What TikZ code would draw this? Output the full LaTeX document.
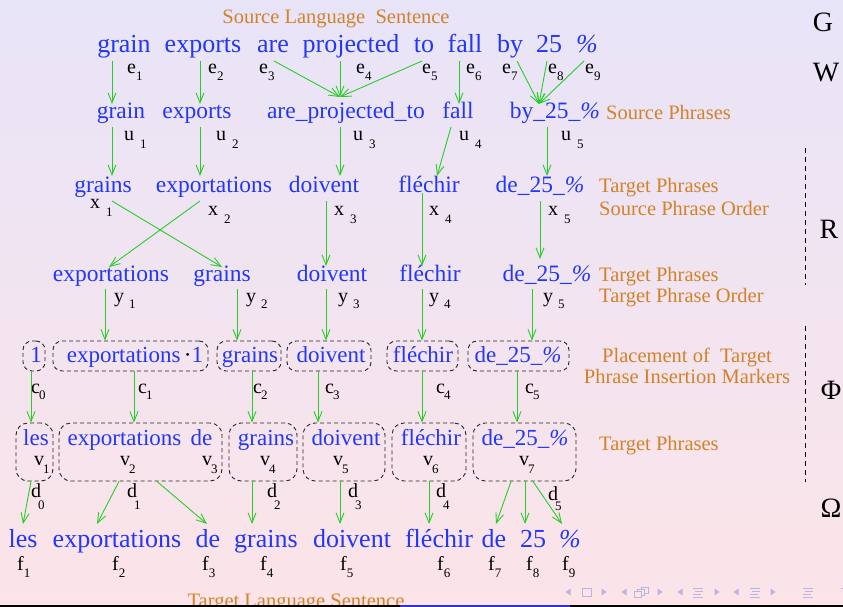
\documentclass[tikz,border=0pt]{standalone}
\usepackage{fontspec}
\setmainfont{Liberation Serif}
\usetikzlibrary{arrows.meta}
\definecolor{wblue}{RGB}{35,55,250}
\definecolor{worange}{RGB}{210,130,40}
\definecolor{wgreen}{RGB}{40,205,40}
\definecolor{navc}{RGB}{185,180,225}
\definecolor{bgtop}{RGB}{232,228,248}
\definecolor{bgbot}{RGB}{252,228,232}
\definecolor{barblue}{RGB}{50,50,200}
\newcommand\sbl[4]{#1\hspace{#3}\raisebox{-#4pt}{\fontsize{13}{13}\selectfont #2}}
\newcommand\pct{\textit{\%}}
\begin{document}
\begin{tikzpicture}[x=1pt,y=-1pt,
 big/.style={text=wblue,font=\fontsize{26}{30}\selectfont,anchor=base,inner sep=0pt},
 mid/.style={text=wblue,font=\fontsize{23.5}{28}\selectfont,anchor=base,inner sep=0pt},
 boxt/.style={text=wblue,font=\fontsize{23}{28}\selectfont,anchor=base,inner sep=0pt},
 lab/.style={font=\fontsize{20}{24}\selectfont,anchor=base west,inner sep=0pt},
 note/.style={text=worange,font=\fontsize{20.5}{24}\selectfont,inner sep=0pt},
 lvl/.style={font=\fontsize{28}{30}\selectfont,anchor=base,inner sep=0pt},
 dbox/.style={draw=black!85,dash pattern=on 4pt off 3pt,rounded corners=9pt,minimum height=30pt,inner sep=0pt,line width=0.9pt},
 tbox/.style={dbox,minimum height=58pt,rounded corners=12pt},
 arr/.style={draw=wgreen,line width=0.9pt,-{Straight Barb[length=10pt,width=8pt]}},
 lvline/.style={draw=black,line width=0.8pt,dash pattern=on 5pt off 4pt},
]
\shade[top color=bgtop,bottom color=bgbot] (0,0) rectangle (843,607);
\useasboundingbox (0,0) rectangle (843,607);

% Row 1: source sentence
\node[big] (w1) at (124,53) {grain};
\node[big] (w2) at (203,53) {exports};
\node[big] (w3) at (273,53) {are};
\node[big] (w4) at (351,53) {projected};
\node[big] (w5) at (424,53) {to};
\node[big] (w6) at (465,53) {fall};
\node[big] (w7) at (510,53) {by};
\node[big] (w8) at (549,53) {25};
\node[big] (w9) at (587,53) {\pct};

% Row 2: source phrases
\node[mid] (p1) at (121,119) {grain};
\node[mid] (p2) at (197,119) {exports};
\node[mid] (p3) at (346,119) {are\_projected\_to};
\node[mid] (p4) at (458,119) {fall};
\node[mid] (p5) at (555,119) {by\_25\_\pct};

% Row 3: target phrases, source order
\node[mid] (t1) at (103,192) {grains};
\node[mid] (t2) at (214,192) {exportations};
\node[mid] (t3) at (324,192) {doivent};
\node[mid] (t4) at (429,192) {fléchir};
\node[mid] (t5) at (540,192) {de\_25\_\pct};

% Row 4: target phrases, target order
\node[mid] (s1) at (111,281) {exportations};
\node[mid] (s2) at (222,281) {grains};
\node[mid] (s3) at (332,281) {doivent};
\node[mid] (s4) at (430,281) {fléchir};
\node[mid] (s5) at (547,281) {de\_25\_\pct};

% Row 5: boxes with insertion markers
\node[dbox,minimum width=22pt] (m0) at (34,356) {};
\node[dbox,minimum width=155pt] (m1) at (130.5,356) {};
\node[dbox,minimum width=64pt] (m2) at (249,356) {};
\node[dbox,minimum width=84pt] (m3) at (329,356) {};
\node[dbox,minimum width=71pt] (m4) at (422.5,356) {};
\node[dbox,minimum width=101pt] (m5) at (518.5,356) {};
\node[boxt] (q0) at (36,362) {1};
\node[boxt] (q1) at (135,362) {exportations\hspace{0.15em}{\color{black}·}1};
\node[boxt] (q2) at (250,362) {grains};
\node[boxt] (q3) at (331,362) {doivent};
\node[boxt] (q4) at (423,362) {fléchir};
\node[boxt] (q5) at (518,362) {de\_25\_\pct};

% Row 6: target phrase boxes
\node[tbox,minimum width=37pt] (n1) at (34.5,452) {};
\node[tbox,minimum width=163pt] (n2) at (140.5,452) {};
\node[tbox,minimum width=68pt] (n3) at (263,452) {};
\node[tbox,minimum width=82pt] (n4) at (344,452) {};
\node[tbox,minimum width=74pt] (n5) at (429,452) {};
\node[tbox,minimum width=103pt] (n6) at (524.5,452) {};
\node[boxt] (r1) at (36,445) {les};
\node[boxt] (r2) at (140,445) {exportations\hspace{0.4em}de};
\node[boxt] (r3) at (266,445) {grains};
\node[boxt] (r4) at (346,445) {doivent};
\node[boxt] (r5) at (431,445) {fléchir};
\node[boxt] (r6) at (525,445) {de\_25\_\pct};

% Row 7: target sentence
\node[big] (g1) at (23,547) {les};
\node[big] (g2) at (117,547) {exportations};
\node[big] (g3) at (208,547) {de};
\node[big] (g4) at (266,547) {grains};
\node[big] (g5) at (352,547) {doivent};
\node[big] (g6) at (439,547) {fléchir};
\node[big] (g7) at (494,547) {de};
\node[big] (g8) at (533,547) {25};
\node[big] (g9) at (570,547) {\pct};

% labels
\foreach \n/\x in {1/127,2/208,3/259,4/356,5/422,6/466,7/502,8/548,9/585}
  \node[lab] (e\n) at (\x,74) {\sbl{e}{\n}{0pt}{7}};
\foreach \n/\x in {1/124,2/216,3/353,4/459,5/561}
  \node[lab] (u\n) at (\x,140) {\sbl{u}{\n}{6pt}{8}};
\node[lab] (x1) at (90,208) {\sbl{x}{1}{6pt}{8}};
\foreach \n/\x in {2/208,3/334,4/429,5/548}
  \node[lab] (x\n) at (\x,215) {\sbl{x}{\n}{6pt}{8}};
\foreach \n/\x in {1/114,2/246,3/338,4/429,5/543}
  \node[lab] (y\n) at (\x,302) {\sbl{y}{\n}{5pt}{6}};
\foreach \n/\x in {0/31,1/138,2/253,3/325,4/436,5/525}
  \node[lab] (c\n) at (\x,393) {\sbl{c}{\n}{-1pt}{6}};
\foreach \n/\x in {1/34,2/120,3/202,4/260,5/333,6/423,7/519}
  \node[lab] (v\n) at (\x,465) {\sbl{v}{\n}{-1pt}{8}};
\foreach \n/\x in {0/31,1/127,2/267,3/348,4/436}
  \node[lab] (d\n) at (\x,497) {\sbl{d}{\n}{-3pt}{12}};
\node[lab] (d5) at (548,500) {\sbl{d}{5}{-3pt}{10}};
\foreach \n/\x in {1/17,2/112,3/202,4/260,5/340,6/437,7/488,8/526,9/562}
  \node[lab] (f\n) at (\x,570) {\sbl{f}{\n}{0pt}{7}};

% orange notes
\node[note,anchor=base] (sls) at (336,24) {Source Language\hspace{0.5em}Sentence};
\node[note,anchor=base west] (sp) at (606,120) {Source Phrases};
\node[note,anchor=base west] (tp1) at (599,192) {Target Phrases};
\node[note,anchor=base west] (spo) at (599,215) {Source Phrase Order};
\node[note,anchor=base west] (tp2) at (599,281) {Target Phrases};
\node[note,anchor=base west] (tpo) at (599,302) {Target Phrase Order};
\node[note,anchor=base] (pl1) at (687,362) {Placement of\hspace{0.5em}Target};
\node[note,anchor=base] (pl2) at (687,383) {Phrase Insertion Markers};
\node[note,anchor=base west] (tp3) at (599,450) {Target Phrases};
\node[note,anchor=base] (tls) at (296,607) {Target Language Sentence};

% level names
\node[lvl] (G) at (823,32) {G};
\node[lvl] (W) at (826,82) {W};
\node[lvl] (R) at (829,238) {R};
\node[lvl] (Phi) at (831,399) {Φ};
\node[lvl] (Om) at (831,517) {Ω};
\draw[lvline] (805,148) -- (805,285);
\draw[lvline] (805,326) -- (805,482);

% arrows row1 -> row2
\draw[arr] ([shift={(-12,8)}]w1.base) -- ([shift={(-9,-15)}]p1.base);
\draw[arr] ([shift={(-3,8)}]w2.base) -- ([shift={(3,-15)}]p2.base);
\draw[arr] ([shift={(1,8)}]w3.base) -- ([shift={(-6,-22)}]p3.base);
\draw[arr] ([shift={(-11,8)}]w4.base) -- ([shift={(-6,-22)}]p3.base);
\draw[arr] ([shift={(-2,8)}]w5.base) -- ([shift={(-6,-22)}]p3.base);
\draw[arr] ([shift={(-6,8)}]w6.base) -- ([shift={(1,-15)}]p4.base);
\draw[arr] ([shift={(7,8)}]w7.base) -- ([shift={(-16,-15)}]p5.base);
\draw[arr] ([shift={(-2,8)}]w8.base) -- ([shift={(-16,-15)}]p5.base);
\draw[arr] ([shift={(-3,8)}]w9.base) -- ([shift={(-16,-15)}]p5.base);

% row2 -> row3
\draw[arr] ([shift={(-9,8)}]p1.base) -- ([shift={(9,-16)}]t1.base);
\draw[arr] ([shift={(3,8)}]p2.base) -- ([shift={(-14,-16)}]t2.base);
\draw[arr] ([shift={(-6,8)}]p3.base) -- ([shift={(16,-16)}]t3.base);
\draw[arr] ([shift={(-7,8)}]p4.base) -- ([shift={(8,-16)}]t4.base);
\draw[arr] ([shift={(-8,8)}]p5.base) -- ([shift={(7,-16)}]t5.base);

% row3 -> row4
\draw[arr] ([shift={(9,9)}]t1.base) -- ([shift={(0,-14)}]s2.base);
\draw[arr] ([shift={(-14,9)}]t2.base) -- ([shift={(-2,-14)}]s1.base);
\draw[arr] ([shift={(2,9)}]t3.base) -- ([shift={(-6,-15)}]s3.base);
\draw[arr] ([shift={(-7,1)}]t4.base) -- ([shift={(-8,-15)}]s4.base);
\draw[arr] ([shift={(0,9)}]t5.base) -- ([shift={(-7,-22)}]s5.base);

% row4 -> row5
\draw[arr] ([shift={(-6,8)}]s1.base) -- ([shift={(-25.5,0)}]m1.north);
\draw[arr] ([shift={(15,8)}]s2.base) -- ([shift={(-12,0)}]m2.north);
\draw[arr] ([shift={(-6,8)}]s3.base) -- ([shift={(-3,0)}]m3.north);
\draw[arr] ([shift={(-8,8)}]s4.base) -- ([shift={(-0.5,0)}]m4.north);
\draw[arr] ([shift={(-15,8)}]s5.base) -- ([shift={(13.5,0)}]m5.north);

% row5 -> row6
\draw[arr] ([shift={(-3,0)}]m0.south) -- ([shift={(-3.5,0)}]n1.north);
\draw[arr] ([shift={(3.5,0)}]m1.south) -- ([shift={(-6.5,0)}]n2.north);
\draw[arr] ([shift={(3,0)}]m2.south) -- ([shift={(-11,0)}]n3.north);
\draw[arr] ([shift={(-11,0)}]m3.south) -- ([shift={(-26,0)}]n4.north);
\draw[arr] ([shift={(-0.5,0)}]m4.south) -- ([shift={(-7,0)}]n5.north);
\draw[arr] ([shift={(-1.5,0)}]m5.south) -- ([shift={(-7.5,0)}]n6.north);

% row6 -> row7
\draw[arr] ([shift={(-3.5,0)}]n1.south) -- ([shift={(0,-23)}]g1.base);
\draw[arr] ([shift={(-21.5,0)}]n2.south) -- ([shift={(-20,-23)}]g2.base);
\draw[arr] ([shift={(16.5,0)}]n2.south) -- ([shift={(-1,-23)}]g3.base);
\draw[arr] ([shift={(-11,0)}]n3.south) -- ([shift={(-14,-23)}]g4.base);
\draw[arr] ([shift={(-4,0)}]n4.south) -- ([shift={(-12,-23)}]g5.base);
\draw[arr] ([shift={(0,0)}]n5.south) -- ([shift={(-10,-23)}]g6.base);
\draw[arr] ([shift={(-13.5,0)}]n6.south) -- ([shift={(2,-23)}]g7.base);
\draw[arr] ([shift={(0.5,0)}]n6.south) -- ([shift={(-8,-23)}]g8.base);
\draw[arr] ([shift={(8.5,0)}]n6.south) -- ([shift={(-8,-23)}]g9.base);

% navigation symbols
\foreach \x in {568,624,680,736}
  \fill[navc] (\x-2.5,592) -- (\x+2.5,588.5) -- (\x+2.5,595.5) -- cycle;
\foreach \x in {604,660,717,773}
  \fill[navc] (\x+2.5,592) -- (\x-2.5,588.5) -- (\x-2.5,595.5) -- cycle;
\draw[navc,line width=1pt] (582,588) rectangle (591,596);
\draw[navc,line width=1pt,fill=bgbot] (641,587.5) rectangle (648,593);
\draw[navc,line width=1pt,fill=bgbot] (637.5,589.5) rectangle (644.5,595);
\draw[navc,line width=1pt,fill=bgbot] (634,591.5) rectangle (641,597);
\foreach \x in {698,755,808}{
  \draw[navc,line width=1pt] (\x-5,588) -- (\x+5,588);
  \draw[navc,line width=1pt] (\x-3,591) -- (\x+5,591);
  \draw[navc,line width=1pt] (\x-5,594) -- (\x+3,594);
  \draw[navc,line width=1pt] (\x-5,597) -- (\x+5,597);
}
\draw[navc,line width=1pt] (841,588) -- (843,588);

% bottom bar
\fill[black] (0,605.3) rectangle (843,607);
\fill[barblue] (400,605.3) rectangle (570,607);
\end{tikzpicture}
\end{document}
